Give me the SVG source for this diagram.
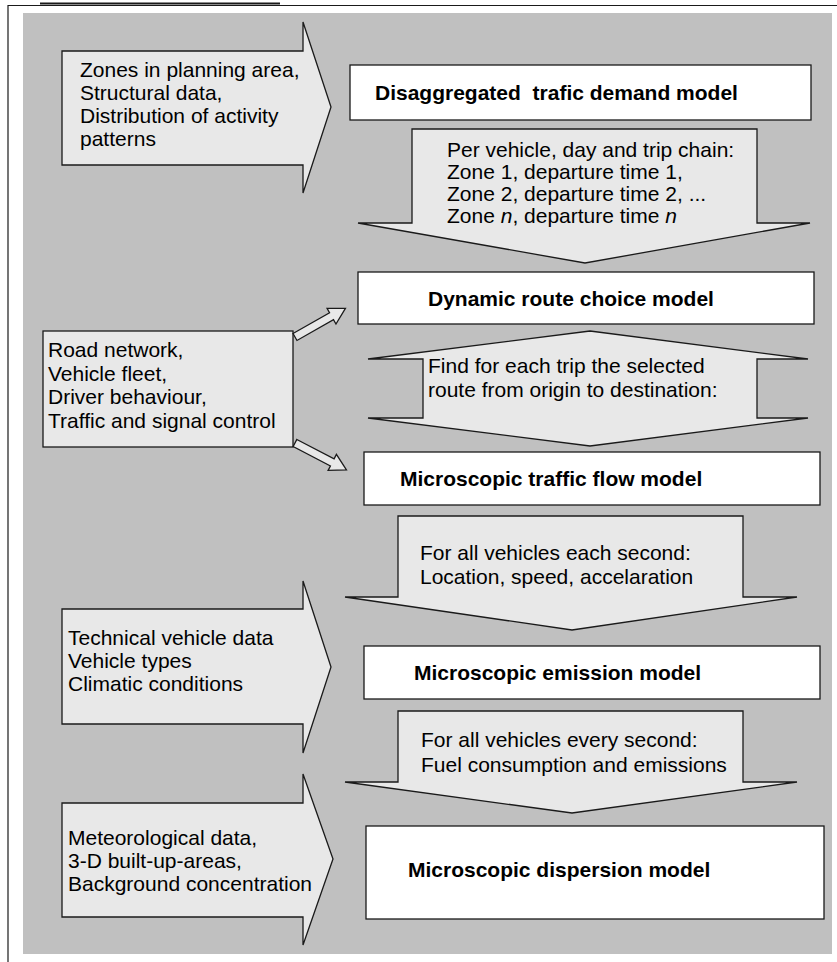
<svg xmlns="http://www.w3.org/2000/svg" width="837" height="962" viewBox="0 0 837 962">
<style>
.bg{fill:#c0c0c0}
.shape{fill:#e8e8e8;stroke:#1a1a1a;stroke-width:1.3;stroke-linejoin:miter}
.box{fill:#ffffff;stroke:#1a1a1a;stroke-width:1.3}
.t{font-family:"Liberation Sans",Arial,sans-serif;font-size:21px;fill:#000}
.b{font-family:"Liberation Sans",Arial,sans-serif;font-size:21px;font-weight:bold;fill:#000}
</style>
<rect width="837" height="962" fill="#ffffff"/>
<g id="frame">
<line x1="8" y1="5.5" x2="837" y2="5.5" stroke="#1a1a1a" stroke-width="1.2"/>
<line x1="40" y1="3.5" x2="280" y2="3.5" stroke="#1a1a1a" stroke-width="2"/>
<line x1="8" y1="5" x2="8" y2="962" stroke="#1a1a1a" stroke-width="1.2"/>
<rect class="bg" x="23" y="13" width="809" height="941"/>
</g>

<g id="input-demand">
<path class="shape" d="M62,51 H303 V22 L331,107 L303,193 V165 H62 Z"/>
<text class="t" x="80" y="77">Zones in planning area,</text>
<text class="t" x="80" y="100">Structural data,</text>
<text class="t" x="80" y="123">Distribution of activity</text>
<text class="t" x="80" y="146">patterns</text>
</g>

<g id="demand-model">
<rect class="box" x="350" y="65" width="461" height="55"/>
<text class="b" x="375" y="100">Disaggregated&#160; trafic demand model</text>
</g>

<g id="flow-trip-chains">
<path class="shape" d="M412,129 H757 V223 H810 L585,263 L358,223 H412 Z"/>
<text class="t" x="447" y="157">Per vehicle, day and trip chain:</text>
<text class="t" x="447" y="179">Zone 1, departure time 1,</text>
<text class="t" x="447" y="201">Zone 2, departure time 2, ...</text>
<text class="t" x="447" y="223">Zone <tspan font-style="italic">n</tspan>, departure time <tspan font-style="italic">n</tspan></text>
</g>

<g id="route-model">
<rect class="box" x="358" y="272" width="456" height="52"/>
<text class="b" x="428" y="306">Dynamic route choice model</text>
</g>

<g id="input-network">
<rect class="shape" x="43" y="331" width="250" height="116"/>
<text class="t" x="48" y="357">Road network,</text>
<text class="t" x="48" y="381">Vehicle fleet,</text>
<text class="t" x="48" y="404">Driver behaviour,</text>
<text class="t" x="48" y="428">Traffic and signal control</text>
</g>

<g id="flow-routes">
<path class="shape" d="M590,331 L808,359 H757 V418 H808 L590,446 L368,418 H423 V359 H368 Z"/>
<text class="t" x="428" y="373">Find for each trip the selected</text>
<text class="t" x="428" y="397">route from origin to destination:</text>
</g>

<g id="traffic-flow-model">
<rect class="box" x="364" y="452" width="456" height="53"/>
<text class="b" x="400" y="486">Microscopic traffic flow model</text>
</g>

<g id="flow-kinematics">
<path class="shape" d="M398,516 H743 V597 H797 L572,630 L345,597 H398 Z"/>
<text class="t" x="420" y="560">For all vehicles each second:</text>
<text class="t" x="420" y="584">Location, speed, accelaration</text>
</g>

<g id="input-vehicle">
<path class="shape" d="M62,609 H303 V581 L331,667 L303,753 V724 H62 Z"/>
<text class="t" x="68" y="645">Technical vehicle data</text>
<text class="t" x="68" y="668">Vehicle types</text>
<text class="t" x="68" y="691">Climatic conditions</text>
</g>

<g id="emission-model">
<rect class="box" x="364" y="646" width="456" height="53"/>
<text class="b" x="414" y="680">Microscopic emission model</text>
</g>

<g id="flow-emissions">
<path class="shape" d="M398,711 H743 V782 H797 L572,813 L345,782 H398 Z"/>
<text class="t" x="421" y="747">For all vehicles every second:</text>
<text class="t" x="421" y="772">Fuel consumption and emissions</text>
</g>

<g id="input-meteo">
<path class="shape" d="M62,803 H303 V774 L333,859 L303,945 V917 H62 Z"/>
<text class="t" x="68" y="845">Meteorological data,</text>
<text class="t" x="68" y="868">3-D built-up-areas,</text>
<text class="t" x="68" y="891">Background concentration</text>
</g>

<g id="dispersion-model">
<rect class="box" x="366" y="826" width="458" height="93"/>
<text class="b" x="408" y="877">Microscopic dispersion model</text>
</g>

<g id="connectors">
<path class="shape" d="M0,-4 H42 V-9 L58,0 L42,9 V4 H0 Z" transform="translate(295,337) rotate(-29.6)"/>
<path class="shape" d="M0,-4 H42 V-9 L58,0 L42,9 V4 H0 Z" transform="translate(295,443) rotate(27.5)"/>
</g>
</svg>
